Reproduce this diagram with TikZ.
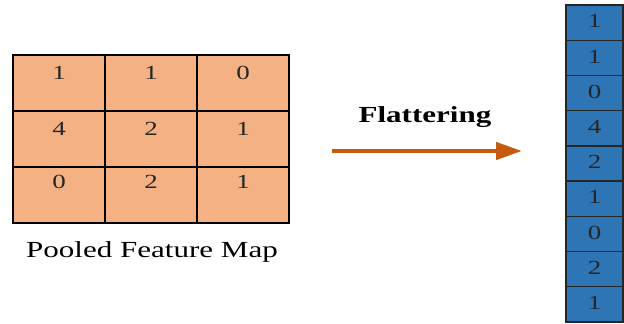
\documentclass[tikz,border=0pt]{standalone}
\usepackage{fontspec}
\setmainfont{Liberation Serif}[FakeStretch=1.35]
\usetikzlibrary{arrows.meta}
\definecolor{poolfill}{HTML}{F4B183}
\definecolor{flatfill}{HTML}{2E75B6}
\definecolor{arrowcol}{HTML}{C55A11}
\definecolor{digitcol}{HTML}{262626}
\begin{document}
\begin{tikzpicture}[x=1pt,y=-1pt,
  gcell/.style={draw=black, line width=1.8pt, fill=poolfill, minimum width=92pt, minimum height=56pt, inner sep=0pt, outer sep=0pt},
  fcell/.style={draw=black!85, line width=1.4pt, fill=flatfill, minimum width=57pt, minimum height=35.2pt, inner sep=0pt, outer sep=0pt},
  digit/.style={anchor=base, inner sep=0pt, text=digitcol, font=\fontsize{20}{20}\selectfont},
  caption/.style={inner sep=0pt, font=\fontsize{23}{23}\selectfont},
  flow/.style={draw=arrowcol, line width=4.5pt, -{Triangle[length=26pt,width=17pt]}}
]
\useasboundingbox (0,0) rectangle (624,324);
% pooled grid cells
\node[gcell] (g11) at (59,83) {};
\node[gcell] (g12) at (151,83) {};
\node[gcell] (g13) at (243,83) {};
\node[gcell] (g21) at (59,139) {};
\node[gcell] (g22) at (151,139) {};
\node[gcell] (g23) at (243,139) {};
\node[gcell] (g31) at (59,195) {};
\node[gcell] (g32) at (151,195) {};
\node[gcell] (g33) at (243,195) {};
% grid digits
\node[digit] (d11) at (59,79) {1};
\node[digit] (d12) at (151,79) {1};
\node[digit] (d13) at (243,79) {0};
\node[digit] (d21) at (59,135) {4};
\node[digit] (d22) at (151,135) {2};
\node[digit] (d23) at (243,135) {1};
\node[digit] (d31) at (59,188) {0};
\node[digit] (d32) at (151,188) {2};
\node[digit] (d33) at (243,188) {1};
% caption
\node[caption] (cap) at (152,252) {Pooled Feature Map};
% arrow
\node[caption, font=\bfseries\fontsize{23}{23}\selectfont] (flat) at (425,117) {Flattering};
\coordinate (a1) at (332,151);
\coordinate (a2) at (522,151);
\draw[flow] (a1) -- (a2);
% flattened column
\foreach \i/\v in {1/1,2/1,3/0,4/4,5/2,6/1,7/0,8/2,9/1}{
  \node[fcell] (f\i) at (594.5,{5+35.2*(\i-0.5)}) {};
  \node[digit] (fd\i) at (594.5,{5+35.2*(\i-0.5)+5.2}) {\v};
}
\end{tikzpicture}
\end{document}
